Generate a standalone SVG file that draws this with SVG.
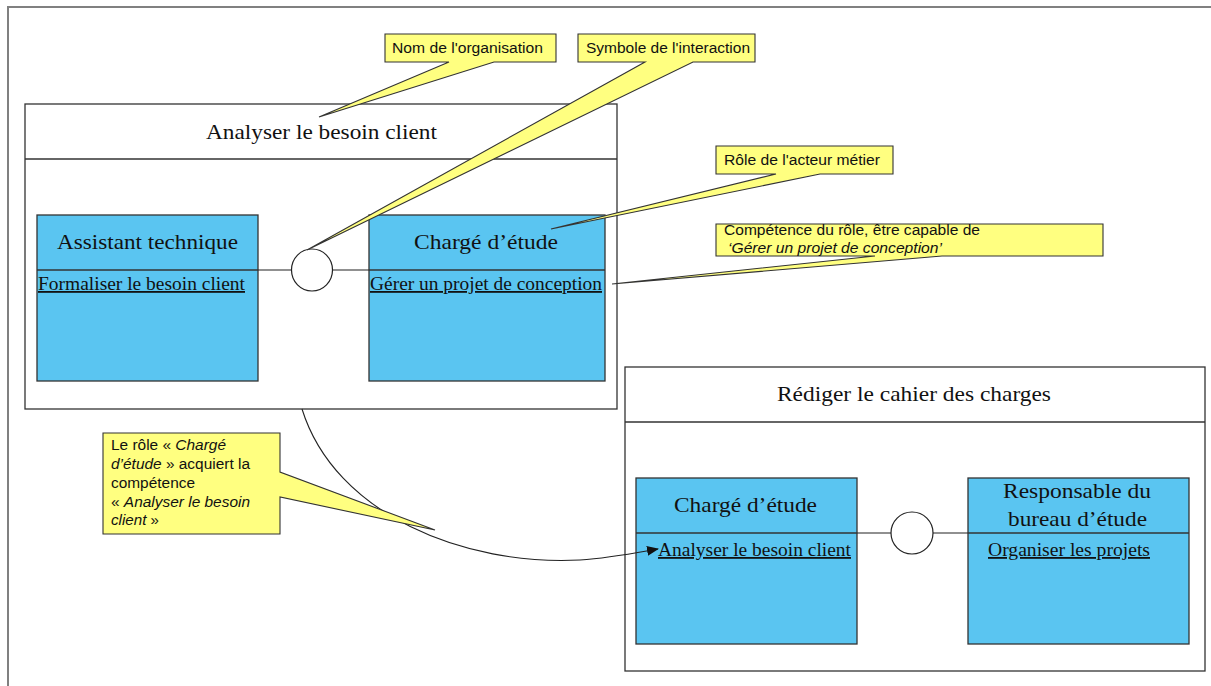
<svg xmlns="http://www.w3.org/2000/svg" width="1211" height="686" viewBox="0 0 1211 686">
<style>
.frame{fill:none;stroke:#808080;stroke-width:2}
.org{fill:#fff;stroke:#333;stroke-width:1.3}
.sep{stroke:#333;stroke-width:1.3}
.actor{fill:#5AC5F1;stroke:#333;stroke-width:1.3}
.link{stroke:#222;stroke-width:1.1;fill:none}
.circ{fill:#fff;stroke:#222;stroke-width:1.2}
.call{fill:#FFFF80;stroke:#333;stroke-width:1.1;stroke-linejoin:miter}
.title{font-family:"Liberation Serif",serif;font-size:22px;fill:#111}
.comp{font-family:"Liberation Serif",serif;font-size:18px;fill:#111;text-decoration:underline}
.note{font-family:"Liberation Sans",Arial,sans-serif;font-size:14px;fill:#111}
</style>
<defs>
<marker id="arr" markerWidth="12" markerHeight="10" refX="11" refY="5" orient="auto" markerUnits="userSpaceOnUse">
<path d="M0,0 L12,5 L0,10 Z" fill="#111"/>
</marker>
</defs>
<rect x="0" y="0" width="1211" height="686" fill="#fff"/>
<path class="frame" d="M8,686 V7 H1211"/>

<g id="org1">
<rect class="org" x="25" y="104" width="592" height="305"/>
<line class="sep" x1="25" y1="159" x2="617" y2="159"/>
<text class="title" x="206" y="139" textLength="231" lengthAdjust="spacingAndGlyphs">Analyser le besoin client</text>
</g>

<g id="org2">
<rect class="org" x="625" y="367" width="580" height="304"/>
<line class="sep" x1="625" y1="422" x2="1205" y2="422"/>
<text class="title" x="777" y="401" textLength="274" lengthAdjust="spacingAndGlyphs">Rédiger le cahier des charges</text>
</g>

<g id="actor-assistant">
<rect class="actor" x="37" y="215" width="221" height="166"/>
<line class="sep" x1="37" y1="270" x2="258" y2="270"/>
<text class="title" x="57" y="249" textLength="181" lengthAdjust="spacingAndGlyphs">Assistant technique</text>
<text class="comp" x="38" y="290" textLength="207" lengthAdjust="spacingAndGlyphs">Formaliser le besoin client</text>
</g>

<g id="actor-charge1">
<rect class="actor" x="369" y="215" width="236" height="166"/>
<line class="sep" x1="369" y1="270" x2="605" y2="270"/>
<text class="title" x="414" y="249" textLength="144" lengthAdjust="spacingAndGlyphs">Chargé d’étude</text>
<text class="comp" x="370" y="290" textLength="232" lengthAdjust="spacingAndGlyphs">Gérer un projet de conception</text>
</g>

<g id="actor-charge2">
<rect class="actor" x="636" y="478" width="221" height="166"/>
<line class="sep" x1="636" y1="533" x2="857" y2="533"/>
<text class="title" x="674" y="512" textLength="143" lengthAdjust="spacingAndGlyphs">Chargé d’étude</text>
<text class="comp" x="658" y="556" textLength="193" lengthAdjust="spacingAndGlyphs">Analyser le besoin client</text>
</g>

<g id="actor-responsable">
<rect class="actor" x="968" y="478" width="221" height="166"/>
<line class="sep" x1="968" y1="533" x2="1189" y2="533"/>
<text class="title" x="1003" y="498" textLength="148" lengthAdjust="spacingAndGlyphs">Responsable du</text>
<text class="title" x="1008" y="526" textLength="139" lengthAdjust="spacingAndGlyphs">bureau d’étude</text>
<text class="comp" x="988" y="556" textLength="162" lengthAdjust="spacingAndGlyphs">Organiser les projets</text>
</g>

<g id="connectors">
<line class="link" x1="258" y1="270" x2="291" y2="270"/>
<line class="link" x1="333" y1="270" x2="369" y2="270"/>
<line class="link" x1="857" y1="533" x2="891" y2="533"/>
<line class="link" x1="933" y1="533" x2="968" y2="533"/>
<path class="link" d="M302,409 C335,515 465,566 580,560 C610,558 635,553 658,549" marker-end="url(#arr)"/>
</g>

<g id="interaction1">
<ellipse class="circ" cx="312" cy="270" rx="20.5" ry="21"/>
</g>

<g id="interaction2">
<ellipse class="circ" cx="912" cy="533" rx="21" ry="21"/>
</g>

<g id="note-nom">
<path class="call" d="M385,34 H556 V62 H494 L319,117 L449,62 H385 Z"/>
<text class="note" x="392" y="53" textLength="151" lengthAdjust="spacingAndGlyphs">Nom de l'organisation</text>
</g>

<g id="note-symbole">
<path class="call" d="M578,34 H755 V62 H693 L307,250 L645,62 H578 Z"/>
<text class="note" x="586" y="53" textLength="164" lengthAdjust="spacingAndGlyphs">Symbole de l'interaction</text>
</g>

<g id="note-role">
<path class="call" d="M716,146 H893 V174 H820 L551,229 L776,174 H716 Z"/>
<text class="note" x="724" y="165" textLength="156" lengthAdjust="spacingAndGlyphs">Rôle de l'acteur métier</text>
</g>

<g id="note-competence">
<path class="call" d="M716,224 H1103 V256 H942 L612,284 L875,256 H716 Z"/>
<text class="note" x="724" y="235" textLength="256" lengthAdjust="spacingAndGlyphs">Compétence du rôle, être capable de</text>
<text class="note" x="728" y="253" font-style="italic" textLength="214" lengthAdjust="spacingAndGlyphs">‘Gérer un projet de conception’</text>
</g>

<g id="note-acquiert">
<path class="call" d="M103,433 H280 V472 L435,530 L280,497 V534 H103 Z"/>
<text class="note" x="111" y="450" textLength="115" lengthAdjust="spacingAndGlyphs">Le rôle « <tspan font-style="italic">Chargé</tspan></text>
<text class="note" x="111" y="469" textLength="139" lengthAdjust="spacingAndGlyphs"><tspan font-style="italic">d’étude</tspan> » acquiert la</text>
<text class="note" x="111" y="488" textLength="84" lengthAdjust="spacingAndGlyphs">compétence</text>
<text class="note" x="111" y="507" textLength="139" lengthAdjust="spacingAndGlyphs">« <tspan font-style="italic">Analyser le besoin</tspan></text>
<text class="note" x="111" y="525" textLength="48" lengthAdjust="spacingAndGlyphs"><tspan font-style="italic">client</tspan> »</text>
</g>
</svg>
